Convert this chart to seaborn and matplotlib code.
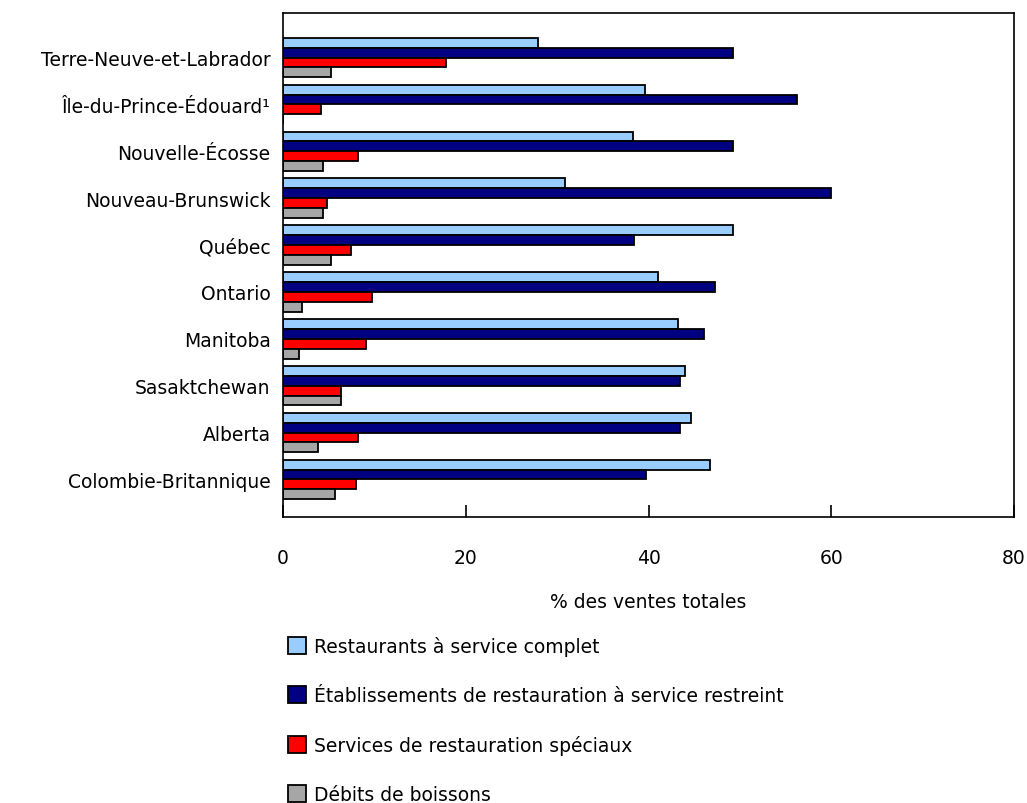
import pandas as pd
import matplotlib
matplotlib.use("Agg")
import matplotlib.pyplot as plt
import seaborn as sns

# Provinces (top to bottom)
provinces = [
    "Terre-Neuve-et-Labrador",
    "Île-du-Prince-Édouard¹",
    "Nouvelle-Écosse",
    "Nouveau-Brunswick",
    "Québec",
    "Ontario",
    "Manitoba",
    "Sasaktchewan",
    "Alberta",
    "Colombie-Britannique",
]

series_names = [
    "Restaurants à service complet",
    "Établissements de restauration à service restreint",
    "Services de restauration spéciaux",
    "Débits de boissons",
]

# % des ventes totales
service_complet = [27.9, 39.6, 38.3, 30.9, 49.2, 41.0, 43.2, 44.0, 44.7, 46.7]
service_restreint = [49.3, 56.3, 49.3, 60.0, 38.4, 47.3, 46.1, 43.5, 43.5, 39.7]
services_speciaux = [17.8, 4.2, 8.2, 4.8, 7.4, 9.7, 9.1, 6.3, 8.2, 8.0]
debits_boissons = [5.2, 0.0, 4.4, 4.4, 5.2, 2.1, 1.8, 6.3, 3.8, 5.7]

colors = ["#99CCFF", "#000080", "#FF0000", "#A6A6A6"]

rows = []
for name, vals in zip(series_names, [service_complet, service_restreint,
                                     services_speciaux, debits_boissons]):
    for prov, v in zip(provinces, vals):
        rows.append({"province": prov, "serie": name, "valeur": v})
df = pd.DataFrame(rows)

sns.set_theme(style="white")
plt.rcParams["font.family"] = ["DejaVu Sans"]
fs = 13.5

fig = plt.figure(figsize=(10.27, 8.04), dpi=100)
ax = fig.add_axes([283 / 1027, 1 - 518 / 804, (1014 - 283) / 1027, (518 - 14) / 804])

sns.barplot(data=df, x="valeur", y="province", hue="serie", order=provinces,
            hue_order=series_names, palette=colors, saturation=1, orient="h",
            width=0.84, edgecolor="black", linewidth=1.3, ax=ax, legend=True)

ax.set_xlim(0, 80)
ax.set_ylim(9.8, -0.95)
ax.set_xticks([0, 20, 40, 60, 80])
ax.tick_params(axis="x", direction="in", length=9, width=1.2, pad=22,
               labelsize=fs, colors="black", bottom=True)
ax.tick_params(axis="y", length=0, pad=9, labelsize=fs, colors="black")
ax.set_xlabel("% des ventes totales", fontsize=fs, labelpad=18, color="black")
ax.set_ylabel("")
for s in ax.spines.values():
    s.set_color("black")
    s.set_linewidth(1.2)

handles, labels = ax.get_legend_handles_labels()
ax.get_legend().remove()
leg = fig.legend(handles, labels, loc="upper left",
                 bbox_to_anchor=(271 / 1027, 1 - 620 / 804),
                 frameon=False, fontsize=fs, handlelength=0.95, handleheight=0.95,
                 labelspacing=1.6, handletextpad=0.45)
for t in leg.get_texts():
    t.set_color("black")

fig.savefig("out.png", dpi=100)
